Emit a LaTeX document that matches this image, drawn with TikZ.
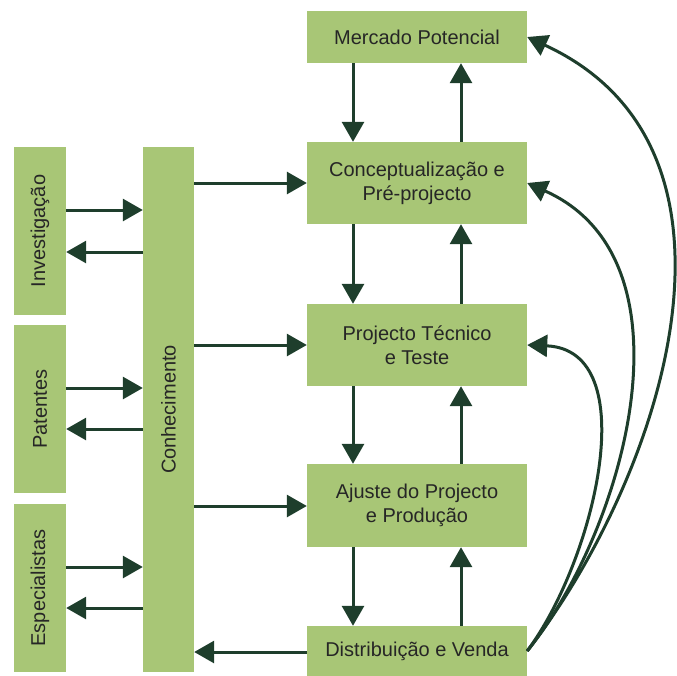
\documentclass[tikz,border=0pt]{standalone}
\usepackage{fontspec}
\setmainfont{Liberation Sans}
\usetikzlibrary{arrows.meta}
\definecolor{boxgreen}{RGB}{168,198,118}
\definecolor{arrowgreen}{RGB}{30,62,44}
\definecolor{labelgrey}{RGB}{38,38,38}
\begin{document}
\begin{tikzpicture}[x=1pt,y=-1pt,
  block/.style={fill=boxgreen, draw=none, inner sep=0pt, text=labelgrey,
    font=\fontsize{20}{24}\selectfont, align=center},
  stage/.style={block, minimum width=220pt},
  source/.style={block, minimum width=52pt, minimum height=168pt},
  flow/.style={draw=arrowgreen, line width=3pt,
    -{Triangle[length=20pt,width=22pt]}}]
\useasboundingbox (0,0) rectangle (677,675);

% process stages
\node[stage, minimum height=52pt] (merc) at (417,37) {Mercado Potencial};
\node[stage, minimum height=82pt] (conc) at (417,183) {Conceptualização e\\Pré-projecto};
\node[stage, minimum height=82pt] (proj) at (417,345) {Projecto Técnico\\e Teste};
\node[stage, minimum height=83pt] (ajus) at (417,505.5) {Ajuste do Projecto\\e Produção};
\node[stage, minimum height=50pt] (dist) at (417,651) {Distribuição e Venda};

% knowledge sources
\node[source] (inv) at (40,231) {\rotatebox{90}{Investigação}};
\node[source] (pat) at (40,409) {\rotatebox{90}{Patentes}};
\node[source] (esp) at (40,588) {\rotatebox{90}{Especialistas}};
\node[block, minimum width=51pt, minimum height=525pt] (conh) at (168.5,409.5) {\rotatebox{90}{Conhecimento}};

% exchange between sources and knowledge
\draw[flow] (inv.east |- 0,210) -- (conh.west |- 0,210);
\draw[flow] (conh.west |- 0,252) -- (inv.east |- 0,252);
\draw[flow] (pat.east |- 0,388) -- (conh.west |- 0,388);
\draw[flow] (conh.west |- 0,429) -- (pat.east |- 0,429);
\draw[flow] (esp.east |- 0,567) -- (conh.west |- 0,567);
\draw[flow] (conh.west |- 0,608) -- (esp.east |- 0,608);

% knowledge feeding the stages
\draw[flow] (conh.east |- 0,183) -- (conc.west |- 0,183);
\draw[flow] (conh.east |- 0,345) -- (proj.west |- 0,345);
\draw[flow] (conh.east |- 0,506) -- (ajus.west |- 0,506);
\draw[flow] (dist.west |- 0,652) -- (conh.east |- 0,652);

% downward flow between stages
\draw[flow] (merc.south -| 353,0) -- (conc.north -| 353,0);
\draw[flow] (conc.south -| 353,0) -- (proj.north -| 353,0);
\draw[flow] (proj.south -| 353,0) -- (ajus.north -| 353,0);
\draw[flow] (ajus.south -| 353,0) -- (dist.north -| 353,0);

% upward feedback between stages
\draw[flow] (conc.north -| 461,0) -- (merc.south -| 461,0);
\draw[flow] (proj.north -| 461,0) -- (conc.south -| 461,0);
\draw[flow] (ajus.north -| 461,0) -- (proj.south -| 461,0);
\draw[flow] (dist.north -| 461,0) -- (ajus.south -| 461,0);

% feedback from sales to earlier stages
\draw[flow] (dist.east) .. controls (660,480) and (772,150) .. (merc.east);
\draw[flow] (dist.east) .. controls (625,530) and (700,260) .. (conc.east);
\draw[flow] (dist.east) .. controls (595,560) and (645,350) .. (proj.east);
\end{tikzpicture}
\end{document}
